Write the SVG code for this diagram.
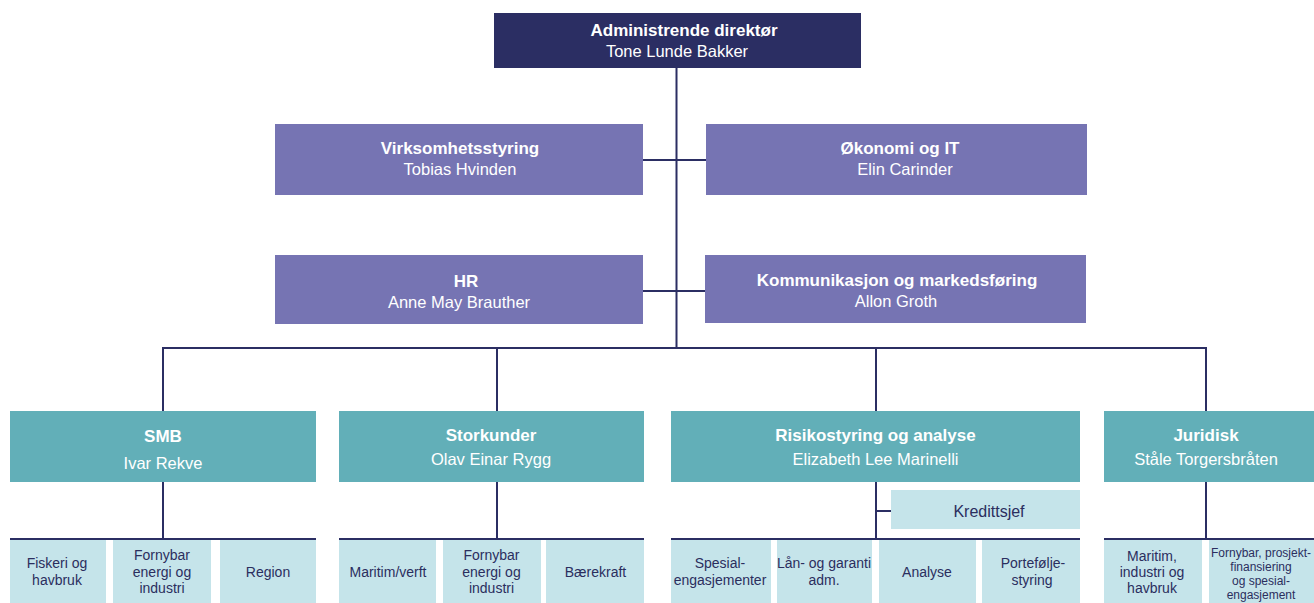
<svg xmlns="http://www.w3.org/2000/svg" width="1314" height="603" viewBox="0 0 1314 603">
<style>
text{font-family:"Liberation Sans",Arial,sans-serif;text-anchor:middle}
.top{fill:#2b2e63}.mgr{fill:#7674b3}.div{fill:#62afb8}.sub{fill:#c5e4ea}
.t{font-weight:bold;font-size:17px;fill:#fff}
.n{font-size:16.5px;fill:#fff}
.s{font-size:14px;fill:#2b2e5e}
.xs{font-size:12px;fill:#2b2e5e}
.ln{stroke:#2b2e63;stroke-width:2;fill:none}
</style>
<rect width="1314" height="603" fill="#fff"/>
<g id="connectors" class="ln">
<path d="M676.5 68V348"/>
<path d="M643 160H706"/>
<path d="M643 291H705"/>
<path d="M163 348H1206"/>
<path d="M163 347V411M497 347V411M876 347V411M1206 347V411"/>
<path d="M163 482V539M497 482V539M876 482V539M1206 482V539"/>
<path d="M876 511H891"/>
<path d="M10 539H316M339 539H644M671 539H1080M1104 539H1314"/>
</g>
<g id="admin"><rect class="top" x="494" y="13" width="367" height="55"/><text class="t" x="684" y="36">Administrende direktør</text><text class="n" x="677" y="57">Tone Lunde Bakker</text></g>
<g id="virksomhet"><rect class="mgr" x="275" y="124" width="368" height="71"/><text class="t" x="460" y="154">Virksomhetsstyring</text><text class="n" x="460" y="175">Tobias Hvinden</text></g>
<g id="okonomi"><rect class="mgr" x="706" y="124" width="381" height="71"/><text class="t" x="900" y="154">Økonomi og IT</text><text class="n" x="905" y="175">Elin Carinder</text></g>
<g id="hr"><rect class="mgr" x="275" y="255" width="368" height="69"/><text class="t" x="466" y="287">HR</text><text class="n" x="459" y="308">Anne May Brauther</text></g>
<g id="kommunikasjon"><rect class="mgr" x="705" y="255" width="381" height="68"/><text class="t" x="897" y="286">Kommunikasjon og markedsføring</text><text class="n" x="896" y="307">Allon Groth</text></g>
<g id="smb"><rect class="div" x="10" y="411" width="306" height="71"/><text class="t" x="163" y="442">SMB</text><text class="n" x="163" y="469">Ivar Rekve</text></g>
<g id="storkunder"><rect class="div" x="339" y="411" width="305" height="71"/><text class="t" x="491" y="441">Storkunder</text><text class="n" x="491" y="465">Olav Einar Rygg</text></g>
<g id="risiko"><rect class="div" x="671" y="411" width="409" height="71"/><text class="t" x="875.5" y="441">Risikostyring og analyse</text><text class="n" x="875.5" y="465">Elizabeth Lee Marinelli</text></g>
<g id="juridisk"><rect class="div" x="1104" y="411" width="210" height="71"/><text class="t" x="1206" y="441">Juridisk</text><text class="n" x="1206" y="465">Ståle Torgersbråten</text></g>
<g id="kredittsjef"><rect class="sub" x="891" y="490" width="189" height="39"/><text class="s" style="font-size:16px" x="989" y="517">Kredittsjef</text></g>
<g id="smb-fiskeri"><rect class="sub" x="10" y="540" width="96" height="63"/><text class="s" x="57" y="568">Fiskeri og</text><text class="s" x="57" y="585">havbruk</text></g>
<g id="smb-fornybar"><rect class="sub" x="113" y="540" width="98" height="63"/><text class="s" x="162" y="560">Fornybar</text><text class="s" x="162" y="577">energi og</text><text class="s" x="162" y="593">industri</text></g>
<g id="smb-region"><rect class="sub" x="220" y="540" width="96" height="63"/><text class="s" x="268" y="577">Region</text></g>
<g id="sk-maritim"><rect class="sub" x="339" y="540" width="97" height="63"/><text class="s" x="388" y="577">Maritim/verft</text></g>
<g id="sk-fornybar"><rect class="sub" x="443" y="540" width="98" height="63"/><text class="s" x="491.5" y="560">Fornybar</text><text class="s" x="491.5" y="577">energi og</text><text class="s" x="491.5" y="593">industri</text></g>
<g id="sk-baerekraft"><rect class="sub" x="546" y="540" width="98" height="63"/><text class="s" x="595.5" y="577">Bærekraft</text></g>
<g id="ri-spesial"><rect class="sub" x="671" y="540" width="100" height="63"/><text class="s" x="720" y="568">Spesial-</text><text class="s" x="720" y="585">engasjementer</text></g>
<g id="ri-lan"><rect class="sub" x="777" y="540" width="95" height="63"/><text class="s" x="824" y="568">Lån- og garanti</text><text class="s" x="824" y="585">adm.</text></g>
<g id="ri-analyse"><rect class="sub" x="879" y="540" width="97" height="63"/><text class="s" x="927" y="577">Analyse</text></g>
<g id="ri-portefolje"><rect class="sub" x="982" y="540" width="98" height="63"/><text class="s" x="1033" y="568">Portefølje-</text><text class="s" x="1032" y="585">styring</text></g>
<g id="ju-maritim"><rect class="sub" x="1104" y="540" width="98" height="63"/><text class="s" x="1152" y="561">Maritim,</text><text class="s" x="1152" y="577">industri og</text><text class="s" x="1152" y="593">havbruk</text></g>
<g id="ju-fornybar"><rect class="sub" x="1209" y="540" width="105" height="63"/><text class="xs" x="1261" y="557">Fornybar, prosjekt-</text><text class="xs" x="1261" y="571">finansiering</text><text class="xs" x="1261" y="585">og spesial-</text><text class="xs" x="1261" y="599">engasjement</text></g>
</svg>
